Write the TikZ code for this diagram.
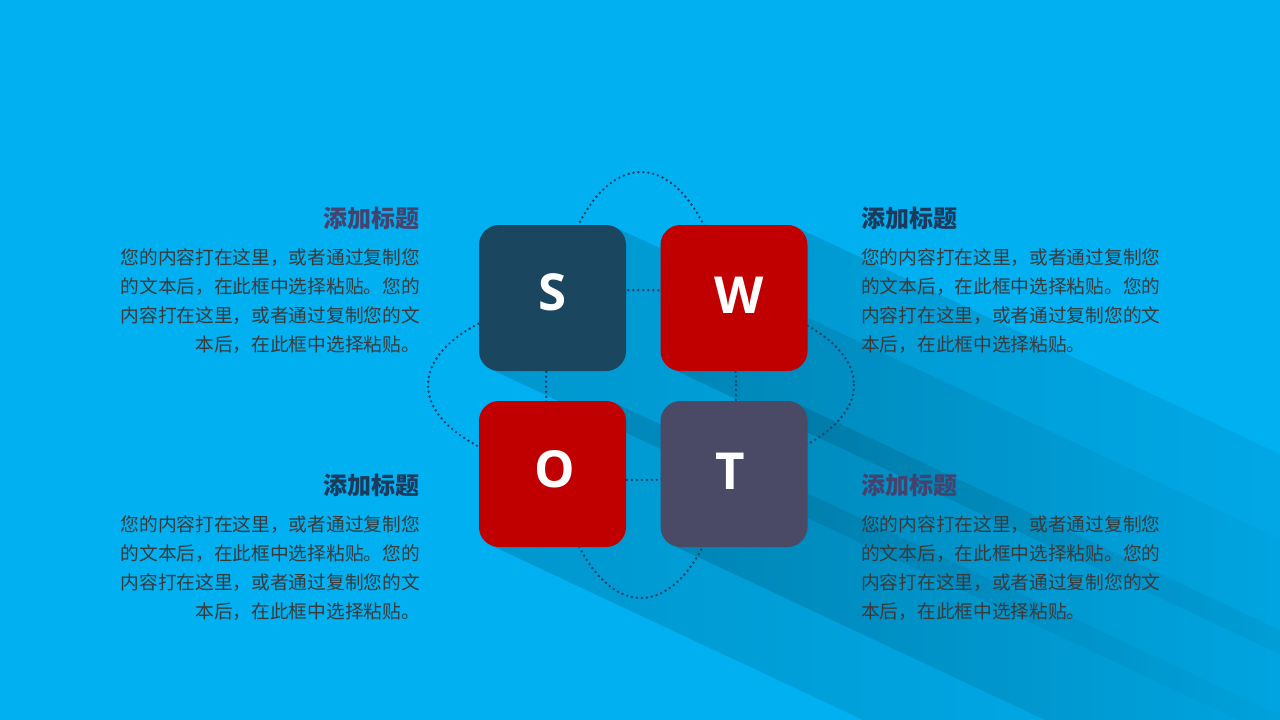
\documentclass[tikz,border=0pt]{standalone}
\usepackage{fontspec}
\newfontfamily\cjk{Noto Sans CJK SC}
\newfontfamily\letfont{Open Sans}
\definecolor{bg}{HTML}{00B0F0}
\definecolor{cS}{HTML}{1B4660}
\definecolor{cRed}{HTML}{C00000}
\definecolor{cT}{HTML}{4A4A66}
\definecolor{dotc}{HTML}{1A3F6A}
\definecolor{navy}{HTML}{1B3A5C}
\definecolor{purp}{HTML}{46426E}
\definecolor{bodyc}{HTML}{3A3A3A}
\tikzset{
  sqbox/.style={minimum width=147pt, minimum height=146pt, rounded corners=20pt, inner sep=0pt, draw=none},
  letter/.style={text=white, font=\letfont\bfseries\fontsize{51}{51}\selectfont, inner sep=0pt},
  dotline/.style={draw=dotc, line width=2.7pt, line cap=round, dash pattern=on 0pt off 5pt},
  shadowfill/.style={left color=black, right color=bg, fill opacity=0.14},
  ttl/.style={font=\cjk\bfseries\fontsize{24}{24}\selectfont, inner sep=0pt},
  body/.style={font=\cjk\fontsize{18.7}{18.7}\selectfont, text=bodyc, inner sep=0pt},
}
\begin{document}
\begin{tikzpicture}[x=1pt,y=-1pt]
\fill[bg] (0,0) rectangle (1280,720);
\useasboundingbox (0,0) rectangle (1280,720);
% long shadows
\begin{scope}
\clip (0,0) rectangle (1280,720);
\foreach \xa/\ya/\xb/\yb in {479/225/626/371, 661/225/807/371, 479/401/626/547, 661/401/807/547}{
  \shade[shadowfill] ({\xb-11.5},{\ya+1.9}) -- ++(780,366) -- ({\xa+11.5+780},{\yb-1.9+366}) -- ({\xa+11.5},{\yb-1.9}) -- cycle;
}
\end{scope}
% dotted ellipses
\draw[dotline] (641,385) ellipse [x radius=213, y radius=95];
\draw[dotline] (641,385) ellipse [x radius=95, y radius=213];
% boxes
\node[sqbox, fill=cS] (S) at (552.5,298) {};
\node[sqbox, fill=cRed] (W) at (734,298) {};
\node[sqbox, fill=cRed] (O) at (552.5,474) {};
\node[sqbox, fill=cT] (T) at (734,474) {};
\node[letter] (lS) at (552.5,292) {S};
\node[letter] (lW) at (739,295.5) {W};
\node[letter] (lO) at (555,469.5) {O};
\node[letter] (lT) at (730,471.5) {T};
% titles
\node[ttl, text=purp, anchor=base east] (t1) at (420,227) {添加标题};
\node[ttl, text=navy, anchor=base west] (t2) at (861,227) {添加标题};
\node[ttl, text=navy, anchor=base east] (t3) at (420,494) {添加标题};
\node[ttl, text=purp, anchor=base west] (t4) at (861,494) {添加标题};
% bodies
\foreach \t [count=\i] in {您的内容打在这里，或者通过复制您, 的文本后，在此框中选择粘贴。您的, 内容打在这里，或者通过复制您的文, 本后，在此框中选择粘贴。}{
  \node[body, anchor=base east] (a\i) at (420,{264+29.3*(\i-1)}) {\t};
  \node[body, anchor=base west] (b\i) at (861,{264+29.3*(\i-1)}) {\t};
  \node[body, anchor=base east] (c\i) at (420,{531+29.3*(\i-1)}) {\t};
  \node[body, anchor=base west] (d\i) at (861,{531+29.3*(\i-1)}) {\t};
}
\end{tikzpicture}
\end{document}
